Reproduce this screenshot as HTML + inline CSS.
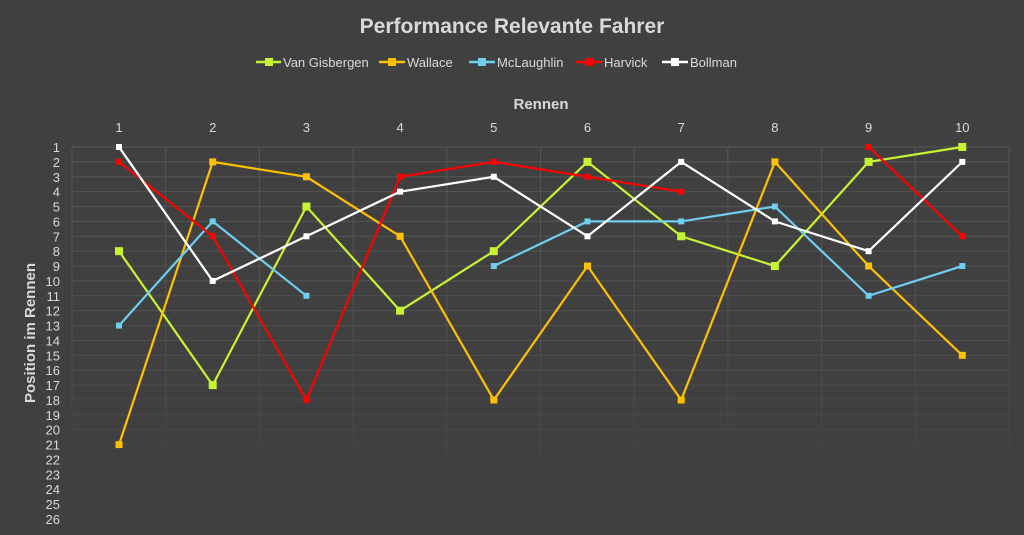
<!DOCTYPE html><html><head><style>body{margin:0;background:#404040}svg{display:block}text{font-family:"Liberation Sans",sans-serif}</style></head><body>
<svg width="1024" height="535" viewBox="0 0 1024 535">
<defs><linearGradient id="fade" x1="0" y1="147" x2="0" y2="460" gradientUnits="userSpaceOnUse"><stop offset="0" stop-color="#575757"/><stop offset="0.6" stop-color="#505050"/><stop offset="1" stop-color="#444444"/></linearGradient></defs>
<rect width="1024" height="535" fill="#404040"/>
<text x="512" y="33" text-anchor="middle" font-size="21" font-weight="bold" fill="#d9d9d9">Performance Relevante Fahrer</text>
<g font-size="13" fill="#d9d9d9">
<line x1="256" y1="62" x2="281" y2="62" stroke="#c6f432" stroke-width="2.5"/><rect x="265" y="58" width="8" height="8" fill="#c6f432"/><text x="283" y="67">Van Gisbergen</text>
<line x1="379" y1="62" x2="405" y2="62" stroke="#ffc000" stroke-width="2.5"/><rect x="388" y="58" width="8" height="8" fill="#ffc000"/><text x="407" y="67">Wallace</text>
<line x1="469" y1="62" x2="495" y2="62" stroke="#6fcdf0" stroke-width="2.5"/><rect x="478" y="58" width="8" height="8" fill="#6fcdf0"/><text x="497" y="67">McLaughlin</text>
<line x1="576" y1="62" x2="602" y2="62" stroke="#ff0000" stroke-width="2.5"/><rect x="585" y="58" width="8" height="8" fill="#ff0000"/><text x="604" y="67">Harvick</text>
<line x1="662" y1="62" x2="688" y2="62" stroke="#ffffff" stroke-width="2.5"/><rect x="671" y="58" width="8" height="8" fill="#ffffff"/><text x="690" y="67">Bollman</text>
</g>
<text x="541" y="109" text-anchor="middle" font-size="15" font-weight="bold" fill="#d9d9d9">Rennen</text>
<text transform="translate(35,333) rotate(-90)" text-anchor="middle" font-size="15" font-weight="bold" fill="#d9d9d9">Position im Rennen</text>
<g id="grid" stroke="url(#fade)" stroke-width="1"></g>
<g id="lbl" font-size="13" fill="#d9d9d9"></g>
<g id="ser"></g>
<script>
var ns="http://www.w3.org/2000/svg";
function X(i){return 119+i*93.7}function Y(v){return 147+(v-1)*14.88}
var g=document.getElementById('grid'),l=document.getElementById('lbl'),s=document.getElementById('ser');
function el(p,t,a,txt){var e=document.createElementNS(ns,t);for(var k in a)e.setAttribute(k,a[k]);if(txt)e.textContent=txt;p.appendChild(e);return e}
for(var v=1;v<=26;v++){if(v<=21)el(g,'rect',{x:72,y:Y(v)-0.5,width:937,height:1,fill:'url(#fade)',stroke:'none'});el(l,'text',{x:60,y:Y(v)+5,'text-anchor':'end'},''+v);}
for(var i=0;i<=10;i++){var x=72+i*93.7;el(g,'rect',{x:x-0.5,y:147,width:1,height:Y(22)-147,fill:'url(#fade)',stroke:'none'});}
for(var i=0;i<10;i++)el(l,'text',{x:X(i),y:132,'text-anchor':'middle'},''+(i+1));
var D=[["#c6f432",[8,17,5,12,8,2,7,9,2,1],8],["#ffc000",[21,2,3,7,18,9,18,2,9,15],7],["#6fcdf0",[13,6,11,null,9,6,6,5,11,9],6],["#ff0000",[2,7,18,3,2,3,4,null,1,7],6],["#ffffff",[1,10,7,4,3,7,2,6,8,2],6]];
D.forEach(function(d){var seg=[];function flush(){if(seg.length>1)el(s,'polyline',{points:seg.join(' '),fill:'none',stroke:d[0],'stroke-width':2.2});seg=[];}
d[1].forEach(function(v,i){if(v==null){flush();return}seg.push(X(i)+','+Y(v));});flush();
d[1].forEach(function(v,i){if(v!=null)el(s,'rect',{x:X(i)-d[2]/2,y:Y(v)-d[2]/2,width:d[2],height:d[2],fill:d[0]});});});
</script>
</svg></body></html>
